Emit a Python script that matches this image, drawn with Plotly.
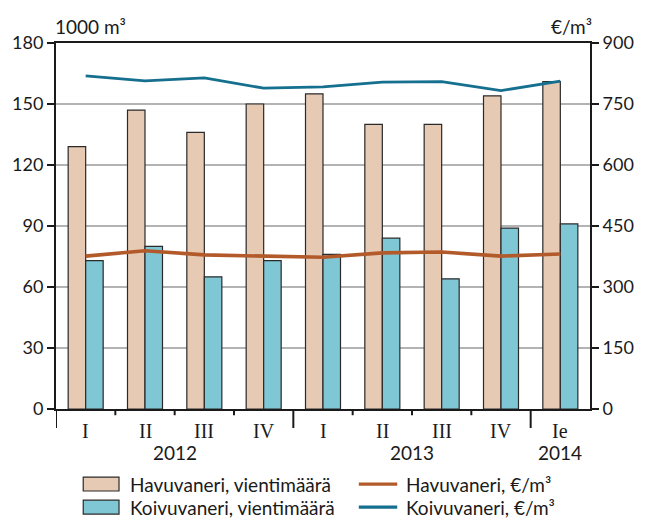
import plotly.graph_objects as go

quarters = ["I", "II", "III", "IV", "I", "II", "III", "IV", "Ie"]
years = ["2012", "2013", "2014"]
year_span = [(0, 3), (4, 7), (8, 8)]
havu_vol = [129, 147, 136, 150, 155, 140, 140, 154, 161]
koivu_vol = [73, 80, 65, 73, 76, 84, 64, 89, 91]
havu_price = [376, 389, 379, 376, 373, 384, 386, 376, 381]
koivu_price = [819, 807, 814, 789, 792, 804, 805, 783, 806]

C_HAVU_BAR = "#E6CAB4"
C_KOIVU_BAR = "#7FC7D5"
C_HAVU_LINE = "#B35A2B"
C_KOIVU_LINE = "#156F8E"
FONT = "Lato"
SERIF = "Liberation Serif"
TXT = "#1a1a1a"

x = list(range(len(quarters)))
fig = go.Figure()
fig.add_trace(go.Bar(x=x, y=havu_vol, name="Havuvaneri, vientimäärä",
                     marker=dict(color=C_HAVU_BAR, line=dict(color="#2a2a2a", width=1.2)),
                     showlegend=False))
fig.add_trace(go.Bar(x=x, y=koivu_vol, name="Koivuvaneri, vientimäärä",
                     marker=dict(color=C_KOIVU_BAR, line=dict(color="#2a2a2a", width=1.2)),
                     showlegend=False))
fig.add_trace(go.Scatter(x=x, y=havu_price, yaxis="y2", mode="lines",
                         line=dict(color=C_HAVU_LINE, width=3.6), showlegend=False))
fig.add_trace(go.Scatter(x=x, y=koivu_price, yaxis="y2", mode="lines",
                         line=dict(color=C_KOIVU_LINE, width=2.8), showlegend=False))

shapes = []
annotations = []
# bottom tick marks
minor = [i + 0.5 for i in range(len(quarters) - 1)]
major = [-0.5] + [s - 0.5 for s, e in year_span[1:]]
for t in minor:
    if t in major:
        continue
    shapes.append(dict(type="line", xref="x", yref="paper", x0=t, x1=t, y0=0, y1=-0.017,
                       line=dict(color=TXT, width=2)))
for t in major:
    shapes.append(dict(type="line", xref="x", yref="paper", x0=t, x1=t, y0=0, y1=-0.052,
                       line=dict(color=TXT, width=2)))
# quarter labels
for i, q in enumerate(quarters):
    annotations.append(dict(x=i, y=-0.06, xref="x", yref="paper", text=q, showarrow=False,
                            yanchor="middle", font=dict(family=SERIF, size=20, color=TXT)))
for yr, (s, e) in zip(years, year_span):
    annotations.append(dict(x=(s + e) / 2, y=-0.12, xref="x", yref="paper", text=yr,
                            showarrow=False, yanchor="middle",
                            font=dict(family=FONT, size=19, color=TXT)))
# axis titles
annotations.append(dict(x=-0.006, y=1.045, xref="paper", yref="paper", text="1000 m³",
                        showarrow=False, xanchor="left", yanchor="middle",
                        font=dict(family=FONT, size=19, color=TXT)))
annotations.append(dict(x=1.008, y=1.045, xref="paper", yref="paper", text="€/m³",
                        showarrow=False, xanchor="right", yanchor="middle",
                        font=dict(family=FONT, size=19, color=TXT)))
# legend
leg = [
    ("bar", C_HAVU_BAR, "Havuvaneri, vientimäärä", 0.051, -0.205),
    ("bar", C_KOIVU_BAR, "Koivuvaneri, vientimäärä", 0.051, -0.268),
    ("line", C_HAVU_LINE, "Havuvaneri, €/m³", 0.567, -0.205),
    ("line", C_KOIVU_LINE, "Koivuvaneri, €/m³", 0.567, -0.268),
]
for kind, col, txt, lx, ly in leg:
    if kind == "bar":
        shapes.append(dict(type="rect", xref="paper", yref="paper", x0=lx, x1=lx + 0.067,
                           y0=ly - 0.019, y1=ly + 0.019, fillcolor=col,
                           line=dict(color="#2a2a2a", width=1.2)))
    else:
        shapes.append(dict(type="line", xref="paper", yref="paper", x0=lx, x1=lx + 0.072,
                           y0=ly, y1=ly, line=dict(color=col, width=3.2)))
    annotations.append(dict(x=lx + 0.084, y=ly, xref="paper", yref="paper", text=txt,
                            showarrow=False, xanchor="left", yanchor="middle",
                            font=dict(family=FONT, size=19, color=TXT)))

fig.update_layout(
    width=646, height=520,
    margin=dict(l=50, r=46, t=43, b=111),
    paper_bgcolor="white", plot_bgcolor="white",
    barmode="group", bargap=0.41, bargroupgap=0,
    font=dict(family=FONT, size=18, color=TXT),
    xaxis=dict(range=[-0.5, len(quarters) - 0.5], showticklabels=False, ticks="",
               showgrid=False, zeroline=False, showline=True, linecolor=TXT,
               linewidth=2, mirror=True),
    yaxis=dict(range=[0, 180], dtick=30, ticks="outside", ticklen=7, tickwidth=2,
               tickcolor=TXT, showline=True, linecolor=TXT, linewidth=2,
               showgrid=True, gridcolor="#b3b3b3", gridwidth=1.6, zeroline=False,
               tickfont=dict(family=FONT, size=18)),
    yaxis2=dict(range=[0, 900], dtick=150, overlaying="y", side="right", ticks="outside",
                ticklen=7, tickwidth=2, tickcolor=TXT, showline=True,
                linecolor=TXT, linewidth=2, showgrid=False, zeroline=False,
                tickfont=dict(family=FONT, size=18)),
    shapes=shapes, annotations=annotations,
)
fig.write_html("out.html", config={"displayModeBar": False},
               post_script="document.body.style.margin='0';document.body.style.padding='0';"
                           "document.body.style.overflow='hidden';")
